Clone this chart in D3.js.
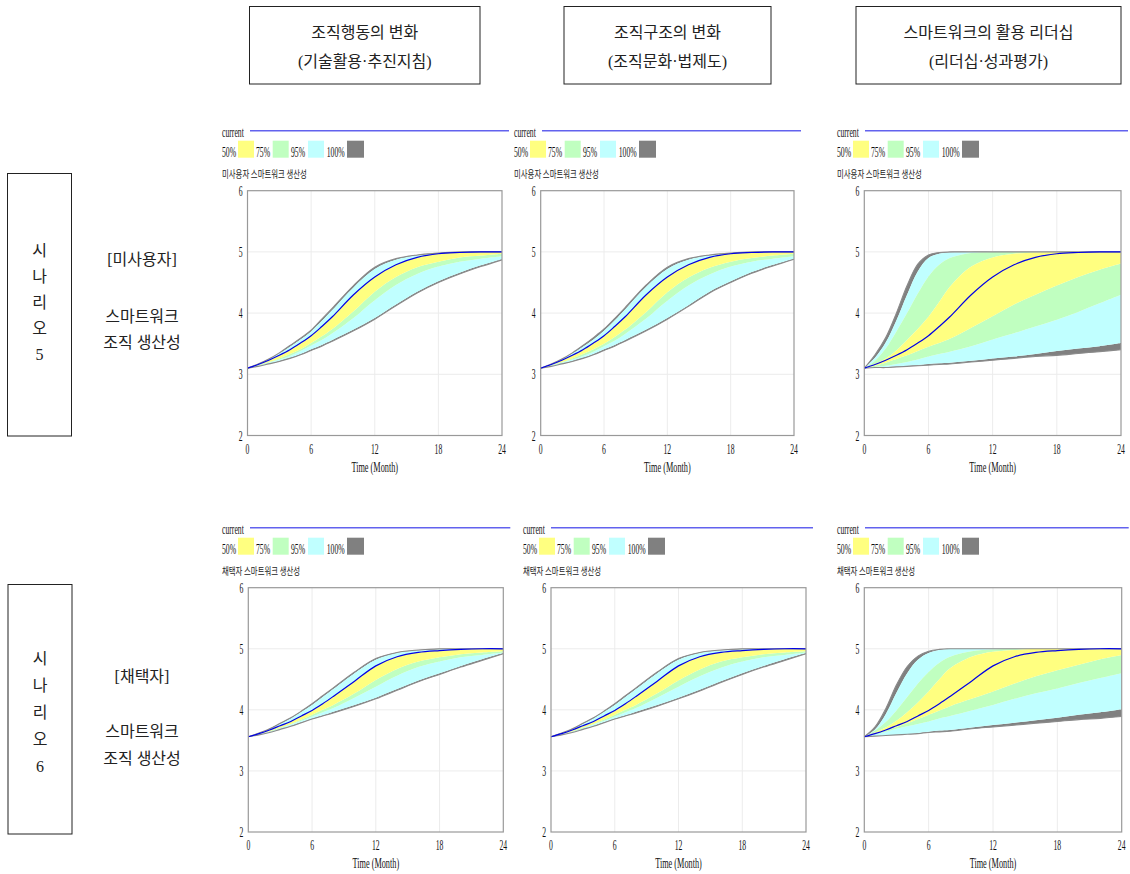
<!DOCTYPE html>
<html>
<head>
<meta charset="utf-8">
<script src="https://cdn.jsdelivr.net/npm/d3@7"></script>
<style>
body { margin: 0; background: #fff; }
svg { display: block; }
</style>
</head>
<body>
<svg width="1130" height="874"></svg>
<script>
// time axis (months)
const months = [0, 1, 2, 3, 4, 5, 6, 7, 8, 10, 12, 14, 16, 18, 20, 22, 24];

// "current" run
const current5 = [3.10, 3.16, 3.23, 3.31, 3.40, 3.51, 3.63, 3.78, 3.94, 4.30, 4.59, 4.79, 4.91, 4.97, 4.99, 5.00, 5.00];
const current6 = [3.56, 3.61, 3.67, 3.74, 3.81, 3.90, 3.99, 4.10, 4.22, 4.47, 4.72, 4.87, 4.94, 4.97, 4.99, 5.00, 5.00];

// confidence bounds, rows: min, lo95, lo75, lo50, hi50, hi75, hi95, max
const bands5a = [
  [3.10, 3.13, 3.17, 3.21, 3.26, 3.32, 3.39, 3.46, 3.54, 3.71, 3.90, 4.12, 4.33, 4.50, 4.64, 4.76, 4.87],
  [3.10, 3.13, 3.17, 3.22, 3.27, 3.33, 3.41, 3.48, 3.56, 3.73, 3.92, 4.14, 4.35, 4.52, 4.66, 4.78, 4.88],
  [3.10, 3.14, 3.19, 3.24, 3.30, 3.38, 3.47, 3.56, 3.67, 3.92, 4.21, 4.46, 4.64, 4.76, 4.84, 4.89, 4.93],
  [3.10, 3.15, 3.20, 3.26, 3.33, 3.41, 3.51, 3.62, 3.74, 4.03, 4.35, 4.59, 4.75, 4.84, 4.91, 4.94, 4.97],
  [3.10, 3.16, 3.23, 3.31, 3.40, 3.51, 3.63, 3.78, 3.94, 4.30, 4.59, 4.79, 4.91, 4.97, 4.99, 5.00, 5.00],
  [3.10, 3.16, 3.23, 3.31, 3.40, 3.51, 3.63, 3.78, 3.94, 4.30, 4.59, 4.79, 4.91, 4.97, 4.99, 5.00, 5.00],
  [3.10, 3.17, 3.24, 3.34, 3.45, 3.57, 3.70, 3.87, 4.05, 4.42, 4.72, 4.87, 4.94, 4.98, 4.99, 5.00, 5.00],
  [3.10, 3.17, 3.25, 3.35, 3.47, 3.59, 3.72, 3.90, 4.08, 4.45, 4.75, 4.89, 4.95, 4.98, 5.00, 5.00, 5.00]
];
const bands5b = [
  [3.10, 3.13, 3.17, 3.21, 3.26, 3.32, 3.39, 3.46, 3.54, 3.71, 3.90, 4.11, 4.33, 4.50, 4.65, 4.77, 4.88],
  [3.10, 3.13, 3.17, 3.22, 3.27, 3.33, 3.41, 3.48, 3.56, 3.73, 3.92, 4.13, 4.35, 4.52, 4.67, 4.79, 4.89],
  [3.10, 3.14, 3.19, 3.24, 3.30, 3.37, 3.46, 3.55, 3.66, 3.91, 4.20, 4.45, 4.63, 4.76, 4.84, 4.89, 4.93],
  [3.10, 3.15, 3.20, 3.26, 3.33, 3.41, 3.50, 3.61, 3.73, 4.02, 4.34, 4.58, 4.74, 4.84, 4.90, 4.94, 4.97],
  [3.10, 3.16, 3.23, 3.31, 3.40, 3.51, 3.63, 3.78, 3.94, 4.30, 4.60, 4.80, 4.91, 4.97, 4.99, 5.00, 5.00],
  [3.10, 3.16, 3.23, 3.31, 3.40, 3.51, 3.63, 3.78, 3.94, 4.30, 4.60, 4.80, 4.91, 4.97, 4.99, 5.00, 5.00],
  [3.10, 3.17, 3.24, 3.34, 3.45, 3.57, 3.71, 3.88, 4.06, 4.43, 4.72, 4.87, 4.94, 4.98, 4.99, 5.00, 5.00],
  [3.10, 3.17, 3.25, 3.35, 3.47, 3.60, 3.74, 3.91, 4.09, 4.46, 4.75, 4.89, 4.95, 4.98, 5.00, 5.00, 5.00]
];
const bands5c = [
  [3.10, 3.11, 3.11, 3.12, 3.13, 3.14, 3.15, 3.16, 3.17, 3.20, 3.23, 3.26, 3.29, 3.31, 3.34, 3.37, 3.40],
  [3.10, 3.11, 3.12, 3.13, 3.14, 3.15, 3.17, 3.18, 3.19, 3.22, 3.26, 3.29, 3.33, 3.38, 3.42, 3.46, 3.51],
  [3.10, 3.12, 3.14, 3.17, 3.20, 3.24, 3.29, 3.33, 3.37, 3.46, 3.57, 3.67, 3.78, 3.89, 4.02, 4.16, 4.30],
  [3.10, 3.14, 3.19, 3.25, 3.31, 3.38, 3.45, 3.51, 3.58, 3.76, 3.95, 4.14, 4.30, 4.45, 4.59, 4.71, 4.81],
  [3.10, 3.17, 3.26, 3.39, 3.56, 3.74, 3.94, 4.18, 4.43, 4.76, 4.91, 4.97, 4.99, 5.00, 5.00, 5.00, 5.00],
  [3.10, 3.22, 3.42, 3.70, 4.00, 4.32, 4.60, 4.79, 4.90, 4.98, 5.00, 5.00, 5.00, 5.00, 5.00, 5.00, 5.00],
  [3.10, 3.27, 3.52, 3.88, 4.30, 4.68, 4.90, 4.97, 4.99, 5.00, 5.00, 5.00, 5.00, 5.00, 5.00, 5.00, 5.00],
  [3.10, 3.32, 3.60, 4.00, 4.45, 4.80, 4.95, 4.99, 5.00, 5.00, 5.00, 5.00, 5.00, 5.00, 5.00, 5.00, 5.00]
];
const bands6a = [
  [3.56, 3.59, 3.63, 3.68, 3.73, 3.79, 3.85, 3.90, 3.95, 4.06, 4.18, 4.32, 4.46, 4.58, 4.70, 4.81, 4.92],
  [3.56, 3.59, 3.63, 3.68, 3.74, 3.80, 3.86, 3.91, 3.97, 4.08, 4.20, 4.34, 4.48, 4.60, 4.72, 4.83, 4.93],
  [3.56, 3.60, 3.64, 3.70, 3.76, 3.82, 3.89, 3.96, 4.03, 4.20, 4.38, 4.56, 4.70, 4.79, 4.86, 4.90, 4.94],
  [3.56, 3.60, 3.65, 3.71, 3.77, 3.84, 3.92, 4.00, 4.08, 4.27, 4.49, 4.67, 4.79, 4.86, 4.91, 4.94, 4.96],
  [3.56, 3.61, 3.67, 3.74, 3.81, 3.90, 3.99, 4.10, 4.22, 4.47, 4.72, 4.87, 4.94, 4.97, 4.99, 5.00, 5.00],
  [3.56, 3.61, 3.67, 3.74, 3.81, 3.90, 3.99, 4.10, 4.22, 4.47, 4.72, 4.87, 4.94, 4.97, 4.99, 5.00, 5.00],
  [3.56, 3.62, 3.68, 3.77, 3.86, 3.97, 4.08, 4.21, 4.34, 4.60, 4.82, 4.93, 4.97, 4.99, 5.00, 5.00, 5.00],
  [3.56, 3.62, 3.69, 3.78, 3.87, 3.98, 4.10, 4.23, 4.36, 4.62, 4.84, 4.94, 4.98, 5.00, 5.00, 5.00, 5.00]
];
const bands6b = [
  [3.56, 3.59, 3.63, 3.68, 3.73, 3.79, 3.85, 3.90, 3.95, 4.06, 4.18, 4.31, 4.45, 4.58, 4.70, 4.81, 4.92],
  [3.56, 3.59, 3.63, 3.68, 3.74, 3.80, 3.86, 3.91, 3.97, 4.08, 4.20, 4.33, 4.47, 4.60, 4.72, 4.83, 4.93],
  [3.56, 3.60, 3.64, 3.70, 3.76, 3.82, 3.89, 3.96, 4.03, 4.20, 4.38, 4.55, 4.69, 4.79, 4.86, 4.90, 4.94],
  [3.56, 3.60, 3.65, 3.71, 3.77, 3.84, 3.92, 4.00, 4.08, 4.27, 4.48, 4.66, 4.79, 4.86, 4.91, 4.94, 4.96],
  [3.56, 3.61, 3.67, 3.74, 3.81, 3.90, 3.99, 4.10, 4.22, 4.47, 4.72, 4.87, 4.94, 4.97, 4.99, 5.00, 5.00],
  [3.56, 3.61, 3.67, 3.74, 3.81, 3.90, 3.99, 4.10, 4.22, 4.47, 4.72, 4.87, 4.94, 4.97, 4.99, 5.00, 5.00],
  [3.56, 3.62, 3.68, 3.77, 3.86, 3.97, 4.08, 4.21, 4.34, 4.60, 4.82, 4.93, 4.97, 4.99, 5.00, 5.00, 5.00],
  [3.56, 3.62, 3.69, 3.78, 3.87, 3.98, 4.10, 4.23, 4.36, 4.62, 4.84, 4.94, 4.98, 5.00, 5.00, 5.00, 5.00]
];
const bands6c = [
  [3.56, 3.57, 3.58, 3.59, 3.60, 3.61, 3.63, 3.64, 3.65, 3.69, 3.72, 3.75, 3.78, 3.81, 3.84, 3.86, 3.89],
  [3.56, 3.57, 3.58, 3.59, 3.60, 3.62, 3.64, 3.66, 3.67, 3.71, 3.75, 3.79, 3.83, 3.87, 3.92, 3.96, 4.01],
  [3.56, 3.60, 3.64, 3.69, 3.73, 3.77, 3.81, 3.86, 3.90, 3.99, 4.08, 4.18, 4.27, 4.35, 4.44, 4.52, 4.60],
  [3.56, 3.61, 3.66, 3.72, 3.78, 3.85, 3.92, 3.99, 4.06, 4.18, 4.30, 4.43, 4.55, 4.65, 4.74, 4.83, 4.90],
  [3.56, 3.63, 3.71, 3.82, 3.96, 4.12, 4.30, 4.50, 4.68, 4.87, 4.95, 4.98, 5.00, 5.00, 5.00, 5.00, 5.00],
  [3.56, 3.66, 3.80, 3.99, 4.21, 4.43, 4.62, 4.77, 4.87, 4.96, 4.99, 5.00, 5.00, 5.00, 5.00, 5.00, 5.00],
  [3.56, 3.68, 3.93, 4.28, 4.60, 4.82, 4.93, 4.98, 5.00, 5.00, 5.00, 5.00, 5.00, 5.00, 5.00, 5.00, 5.00],
  [3.56, 3.72, 4.02, 4.41, 4.71, 4.88, 4.96, 4.99, 5.00, 5.00, 5.00, 5.00, 5.00, 5.00, 5.00, 5.00, 5.00]
];

const xTicks = [0, 6, 12, 18, 24];
const yTicks = [2, 3, 4, 5, 6];
const legendItems = ["50%", "75%", "95%", "100%"];
const headerLines = [
  ["조직행동의 변화", "(기술활용·추진지침)"],
  ["조직구조의 변화", "(조직문화·법제도)"],
  ["스마트워크의 활용 리더십", "(리더십·성과평가)"]
];
const rowLabels = [
  ["[미사용자]", "스마트워크", "조직 생산성"],
  ["[채택자]", "스마트워크", "조직 생산성"]
];
const scenarioChars = [
  ["시", "나", "리", "오", "5"],
  ["시", "나", "리", "오", "6"]
];
const panelTitles = ["미사용자 스마트워크 생산성", "채택자 스마트워크 생산성"];

const bandColors = ["#808080", "#c0ffff", "#c0ffc0", "#ffff80"];
const serif = "'Liberation Serif', 'Times New Roman', serif";
const kor = "'Liberation Serif', 'Noto Sans CJK KR', sans-serif";
const korSans = "'Noto Sans CJK KR', sans-serif";

const svg = d3.select("svg");

// squeezed serif text, like the simulation tool's output
function stext(g, x, y, str, size, anchor, sx) {
  return g.append("text")
    .attr("transform", `translate(${x},${y}) scale(${sx || 0.55},1)`)
    .attr("text-anchor", anchor || "start")
    .attr("font-family", serif)
    .attr("font-size", size)
    .attr("fill", "#111")
    .text(str);
}

// column headers
const headerBoxes = [[249.5, 480], [564, 771], [856, 1121]];
headerBoxes.forEach((b, i) => {
  svg.append("rect").attr("x", b[0]).attr("y", 6.5).attr("width", b[1] - b[0]).attr("height", 77.5)
    .attr("fill", "none").attr("stroke", "#222").attr("stroke-width", 1);
  const cx = (b[0] + b[1]) / 2;
  headerLines[i].forEach((t, j) => {
    svg.append("text").attr("x", cx).attr("y", j === 0 ? 38 : 67)
      .attr("text-anchor", "middle").attr("font-family", kor).attr("font-size", 16)
      .attr("fill", "#222").text(t);
  });
});

// row labels + scenario boxes
const rowGeom = [
  { box: [7.5, 173.5, 64, 262.5], chars: [256, 282, 308, 334, 360], labels: [265, 322, 348] },
  { box: [8, 584.5, 64, 249.5], chars: [664, 691, 718, 745, 772], labels: [682, 737, 764] }
];
rowGeom.forEach((r, i) => {
  svg.append("rect").attr("x", r.box[0]).attr("y", r.box[1]).attr("width", r.box[2]).attr("height", r.box[3])
    .attr("fill", "none").attr("stroke", "#222").attr("stroke-width", 1);
  scenarioChars[i].forEach((c, j) => {
    svg.append("text").attr("x", r.box[0] + r.box[2] / 2).attr("y", r.chars[j])
      .attr("text-anchor", "middle").attr("font-family", kor).attr("font-size", 16)
      .attr("fill", "#222").text(c);
  });
  rowLabels[i].forEach((t, j) => {
    svg.append("text").attr("x", 142).attr("y", r.labels[j])
      .attr("text-anchor", "middle").attr("font-family", kor).attr("font-size", 16)
      .attr("fill", "#222").text(t);
  });
});

// panels
const panels = [
  { x0: 247.5, x1: 502, y0: 190.7, y1: 435.5, lx: 222, row: 0, bands: bands5a, cur: current5 },
  { x0: 540.7, x1: 794, y0: 190.7, y1: 435.5, lx: 514, row: 0, bands: bands5b, cur: current5 },
  { x0: 864.3, x1: 1121, y0: 190.7, y1: 435.5, lx: 837, row: 0, bands: bands5c, cur: current5 },
  { x0: 248.3, x1: 503.3, y0: 587.7, y1: 832, lx: 222, row: 1, bands: bands6a, cur: current6 },
  { x0: 551, x1: 806, y0: 587.7, y1: 832, lx: 523, row: 1, bands: bands6b, cur: current6 },
  { x0: 864.3, x1: 1121.7, y0: 587.7, y1: 832, lx: 837, row: 1, bands: bands6c, cur: current6 }
];

const smooth = d3.curveCatmullRom.alpha(0.5);

panels.forEach(p => {
  const g = svg.append("g");
  const x = d3.scaleLinear().domain([0, 24]).range([p.x0, p.x1]);
  const y = d3.scaleLinear().domain([2, 6]).range([p.y1, p.y0]);
  const T = p.y0;

  // legend
  stext(g, p.lx, T - 54, "current", 14);
  g.append("line").attr("x1", p.lx + 28).attr("x2", p.x1 + 7).attr("y1", T - 60).attr("y2", T - 60)
    .attr("stroke", "#6262ee").attr("stroke-width", 1.6);
  const legX = [0, 34, 69, 104.7];
  const boxX = [16, 50.7, 86, 125];
  const legFill = ["#ffff80", "#c0ffc0", "#c0ffff", "#808080"];
  legendItems.forEach((t, i) => {
    stext(g, p.lx + legX[i], T - 34, t, 14);
    g.append("rect").attr("x", p.lx + boxX[i]).attr("y", T - 50).attr("width", i === 3 ? 17 : 16).attr("height", 17)
      .attr("fill", legFill[i]);
  });
  g.append("text")
    .attr("transform", `translate(${p.lx},${T - 13}) scale(0.74,1)`)
    .attr("font-family", korSans).attr("font-size", 10).attr("fill", "#222")
    .text(panelTitles[p.row]);

  // grid
  g.selectAll(".gx").data(xTicks.slice(1, -1)).enter().append("line")
    .attr("x1", d => x(d)).attr("x2", d => x(d)).attr("y1", p.y0).attr("y2", p.y1)
    .attr("stroke", "#ececec").attr("stroke-width", 1);
  g.selectAll(".gy").data(yTicks.slice(1, -1)).enter().append("line")
    .attr("x1", p.x0).attr("x2", p.x1).attr("y1", d => y(d)).attr("y2", d => y(d))
    .attr("stroke", "#ececec").attr("stroke-width", 1);

  // bands: pairs (lower row, upper row, colour)
  const pairs = [[0, 1, 0], [6, 7, 0], [1, 2, 1], [5, 6, 1], [2, 3, 2], [4, 5, 2], [3, 4, 3]];
  pairs.forEach(([a, b, c]) => {
    const area = d3.area()
      .x((d, i) => x(months[i]))
      .y0((d, i) => y(p.bands[a][i]))
      .y1((d, i) => y(p.bands[b][i]))
      .curve(smooth);
    g.append("path").attr("d", area(months)).attr("fill", bandColors[c]).attr("stroke", "none");
  });
  const ln = d3.line().x((d, i) => x(months[i])).y(d => y(d)).curve(smooth);
  [0, 7].forEach(k => {
    g.append("path").attr("d", ln(p.bands[k])).attr("fill", "none")
      .attr("stroke", "#8a8a8a").attr("stroke-width", 1.1);
  });

  // current run
  g.append("path").attr("d", ln(p.cur)).attr("fill", "none")
    .attr("stroke", "#0000e6").attr("stroke-width", 1.2);

  // frame
  g.append("rect").attr("x", p.x0).attr("y", p.y0).attr("width", p.x1 - p.x0).attr("height", p.y1 - p.y0)
    .attr("fill", "none").attr("stroke", "#999").attr("stroke-width", 1.2);

  // tick labels
  yTicks.forEach(v => {
    stext(g, p.x0 - 5, y(v) + 5, String(v), 14, "end");
  });
  xTicks.forEach(v => {
    stext(g, x(v), p.y1 + 18, String(v), 14, "middle");
  });
  stext(g, (p.x0 + p.x1) / 2, p.y1 + 36, "Time (Month)", 14, "middle", 0.59);
});
</script>
</body>
</html>
